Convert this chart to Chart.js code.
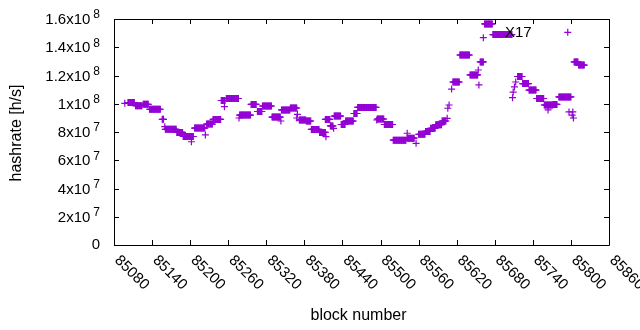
<!DOCTYPE html>
<html>
<head>
<meta charset="utf-8">
<script src="https://cdn.jsdelivr.net/npm/chart.js@4.4.0/dist/chart.umd.min.js"></script>
<style>
  html, body { margin: 0; padding: 0; background: #fff; }
  #wrap { width: 640px; height: 330px; position: relative; }
</style>
</head>
<body>
<div id="wrap"><canvas id="hashChart"></canvas></div>
<script>
// runs of consecutive blocks sharing one hashrate estimate (value in 1e6 h/s)
const runStart = [85097, 85102, 85114, 85126, 85136, 85156, 85160, 85161, 85179, 85189, 85202, 85207, 85224,
  85226, 85236, 85249, 85254, 85257, 85277, 85278, 85296, 85306, 85314, 85329, 85343, 85344, 85358, 85369,
  85368, 85372, 85383, 85391, 85404, 85414, 85413, 85421, 85426, 85427, 85438, 85445, 85458, 85464, 85494,
  85495, 85506, 85520, 85542, 85542, 85556, 85560, 85571, 85579, 85587, 85597, 85605, 85606, 85608, 85612,
  85614, 85625, 85641, 85654, 85655, 85657, 85662, 85664, 85677, 85708, 85709, 85711, 85713, 85716, 85724,
  85734, 85746, 85758, 85764, 85772, 85781, 85795, 85797, 85803, 85802, 85804, 85805, 85812];
const runEnd = [85097, 85112, 85124, 85134, 85153, 85158, 85160, 85178, 85188, 85205, 85202, 85223, 85224,
  85235, 85248, 85255, 85254, 85276, 85277, 85295, 85304, 85313, 85328, 85342, 85343, 85357, 85368, 85369,
  85368, 85382, 85390, 85403, 85413, 85414, 85420, 85425, 85426, 85437, 85444, 85457, 85463, 85493, 85494,
  85505, 85519, 85540, 85542, 85553, 85556, 85570, 85578, 85586, 85596, 85603, 85605, 85606, 85608, 85612,
  85624, 85640, 85653, 85654, 85655, 85662, 85662, 85676, 85707, 85708, 85709, 85711, 85713, 85723, 85733,
  85745, 85757, 85771, 85764, 85778, 85800, 85795, 85797, 85803, 85802, 85804, 85811, 85821];
const runValue = [100.3, 100.9, 98.6, 99.6, 96.1, 89.0, 83.8, 81.9, 79.7, 76.8, 73.1, 82.8, 77.9,
  85.6, 88.9, 102.3, 97.9, 103.7, 89.9, 92.0, 99.5, 94.5, 98.4, 90.6, 87.8, 95.6, 97.0, 92.5,
  89.9, 88.5, 87.8, 81.8, 79.7, 76.7, 88.9, 84.3, 82.6, 91.3, 85.3, 87.8, 93.1, 97.4, 88.5,
  89.2, 85.3, 74.2, 79.1, 75.6, 72.0, 78.4, 80.4, 82.6, 85.2, 87.8, 89.7, 96.8, 99.1, 110.4,
  115.4, 134.5, 120.4, 123.9, 113.3, 129.6, 146.8, 156.5, 149.0, 104.3, 108.3, 111.9, 115.4, 119.3, 114.3,
  109.7, 103.7, 99.1, 95.6, 99.5, 104.8, 150.6, 94.2, 94.2, 92.0, 89.9, 129.6, 127.4];

const xTicks = [85080, 85140, 85200, 85260, 85320, 85380, 85440, 85500, 85560, 85620, 85680, 85740, 85800, 85860];
const yTicks = [0, 2e7, 4e7, 6e7, 8e7, 1e8, 1.2e8, 1.4e8, 1.6e8];
const yTickLabels = ['0', '2x10^7', '4x10^7', '6x10^7', '8x10^7', '1x10^8', '1.2x10^8', '1.4x10^8', '1.6x10^8'];
const xTitle = 'block number';
const yTitle = 'hashrate [h/s]';
const noteText = 'X17';
const noteX = 85696;
const noteY = 1.5e8;

const FONT = '"Liberation Sans", Arial, sans-serif';
const points = [];
for (let i = 0; i < runStart.length; i++) {
  for (let b = runStart[i]; b <= runEnd[i]; b++) {
    points.push({ x: b, y: runValue[i] * 1e6 });
  }
}

// gnuplot-like frame: border, inward ticks, labels
const frame = {
  id: 'frame',
  afterDraw(chart) {
    const ctx = chart.ctx;
    const xs = chart.scales.x, ys = chart.scales.y;
    const L = xs.left, R = xs.right, T = ys.top, B = ys.bottom;
    ctx.save();
    ctx.strokeStyle = '#000';
    ctx.lineWidth = 1;
    ctx.beginPath();
    ctx.rect(L + 0.5, T + 0.5, R - L, B - T);
    ctx.stroke();

    ctx.beginPath();
    xTicks.forEach(v => {
      const px = Math.round(xs.getPixelForValue(v)) + 0.5;
      ctx.moveTo(px, B); ctx.lineTo(px, B - 5);
      ctx.moveTo(px, T); ctx.lineTo(px, T + 5);
    });
    yTicks.forEach(v => {
      const py = Math.round(ys.getPixelForValue(v)) + 0.5;
      ctx.moveTo(L, py); ctx.lineTo(L + 5, py);
      ctx.moveTo(R, py); ctx.lineTo(R - 5, py);
    });
    ctx.stroke();

    ctx.fillStyle = '#000';
    // y tick labels with superscript exponents
    yTicks.forEach((v, i) => {
      const py = ys.getPixelForValue(v);
      const parts = yTickLabels[i].split('^');
      const right = 100;
      ctx.textAlign = 'right';
      ctx.textBaseline = 'middle';
      if (parts.length === 1) {
        ctx.font = '15px ' + FONT;
        ctx.fillText(parts[0], right, py);
        return;
      }
      ctx.font = '12px ' + FONT;
      const ew = ctx.measureText(parts[1]).width;
      ctx.fillText(parts[1], right, py - 4);
      ctx.font = '15px ' + FONT;
      ctx.fillText(parts[0], right - ew - 3, py + 1);
    });

    // x tick labels rotated 45 degrees
    ctx.font = '15px ' + FONT;
    ctx.textAlign = 'left';
    ctx.textBaseline = 'middle';
    xTicks.forEach(v => {
      const px = xs.getPixelForValue(v);
      ctx.save();
      ctx.translate(px + 3, B + 13);
      ctx.rotate(Math.PI / 4);
      ctx.fillText(String(v), 0, 0);
      ctx.restore();
    });

    // axis titles
    ctx.font = '16px ' + FONT;
    ctx.textAlign = 'center';
    ctx.fillText(xTitle, (L + R) / 2 - 3, 316);
    ctx.save();
    ctx.translate(17, (T + B) / 2 + 1);
    ctx.rotate(-Math.PI / 2);
    ctx.fillText(yTitle, 0, 0);
    ctx.restore();

    // point label
    ctx.font = '15px ' + FONT;
    ctx.textAlign = 'left';
    ctx.fillText(noteText, xs.getPixelForValue(noteX), ys.getPixelForValue(noteY));
    ctx.restore();
  }
};

new Chart(document.getElementById('hashChart'), {
  type: 'scatter',
  data: {
    datasets: [{
      label: 'hashrate',
      data: points,
      pointStyle: 'cross',
      radius: 3.5,
      hoverRadius: 3.5,
      borderWidth: 1.2,
      borderColor: '#9400d3',
      backgroundColor: '#9400d3'
    }]
  },
  options: {
    responsive: true,
    maintainAspectRatio: false,
    animation: false,
    layout: { padding: { left: 114, right: 31, top: 19, bottom: 85 } },
    plugins: { legend: { display: false }, tooltip: { enabled: false } },
    scales: {
      x: { type: 'linear', min: 85080, max: 85860, display: false },
      y: { type: 'linear', min: 0, max: 1.6e8, display: false }
    }
  },
  plugins: [frame]
});
</script>
</body>
</html>
